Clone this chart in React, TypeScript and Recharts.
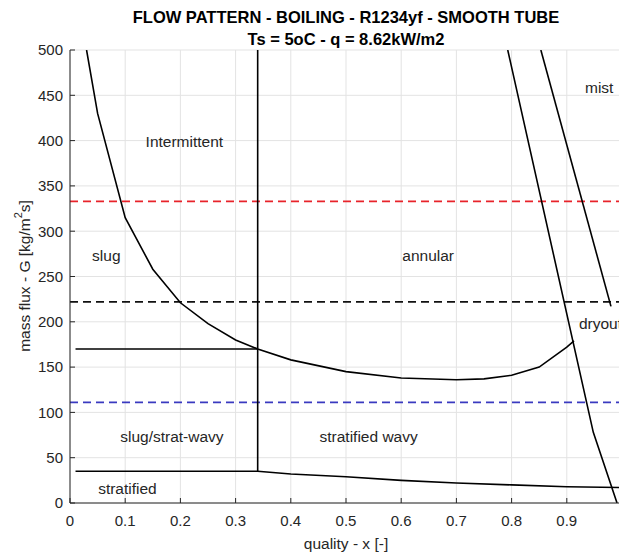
import React from "react";
import {
  ComposedChart,
  Line,
  Scatter,
  XAxis,
  YAxis,
  CartesianGrid,
  ReferenceLine,
  Label,
} from "recharts";

// boundary curves (quality x, mass flux G)
const slugAnnularX = [0.03, 0.05, 0.1, 0.15, 0.2, 0.25, 0.3, 0.34, 0.4, 0.5, 0.6, 0.7, 0.75, 0.8, 0.85, 0.9, 0.913];
const slugAnnularG = [500, 430, 315, 258, 221, 198, 180, 170, 158, 145, 138, 136, 137, 141, 150, 172, 179];

const transitionX = [0.34, 0.34];
const transitionG = [35, 500];

const intermittentX = [0.01, 0.34];
const intermittentG = [170, 170];

const stratifiedX = [0.01, 0.34, 0.4, 0.5, 0.6, 0.7, 0.8, 0.9, 1.0];
const stratifiedG = [35, 35, 32, 29, 25, 22, 20, 18, 17];

const dryoutX = [0.793, 0.948, 0.991];
const dryoutG = [500, 78, 0];

const mistX = [0.853, 0.98];
const mistG = [500, 217];

// dashed mass flux levels
const fluxHigh = 333;
const fluxMid = 222;
const fluxLow = 111;

const regionNames = ["Intermittent", "slug", "annular", "mist", "dryout", "slug/strat-wavy", "stratified wavy", "stratified"];
const regionX = [0.137, 0.04, 0.602, 0.933, 0.922, 0.091, 0.452, 0.051];
const regionG = [399, 273, 273, 459, 198, 73, 73, 15.5];

const xTicks = [0, 0.1, 0.2, 0.3, 0.4, 0.5, 0.6, 0.7, 0.8, 0.9];
const yTicks = [0, 50, 100, 150, 200, 250, 300, 350, 400, 450, 500];

const pts = (xs: number[], gs: number[]) => xs.map((x, i) => ({ x, G: gs[i] }));

const labelData = regionNames.map((text, i) => ({ x: regionX[i], G: regionG[i], text }));

const FONT = "'Liberation Sans', Arial, Helvetica, sans-serif";
const INK = "#262626";

const curves = [
  pts(slugAnnularX, slugAnnularG),
  pts(transitionX, transitionG),
  pts(intermittentX, intermittentG),
  pts(stratifiedX, stratifiedG),
  pts(dryoutX, dryoutG),
  pts(mistX, mistG),
];

function RegionText(props: any) {
  const { cx, cy, payload } = props;
  return (
    <text x={cx} y={cy} dominantBaseline="central" fontSize={15.5} fontFamily={FONT} fill={INK}>
      {payload.text}
    </text>
  );
}

// MATLAB style: tick marks point into the plot
function XTick(props: any) {
  const { x, y, payload } = props;
  const axisY = y - 12;
  return (
    <g>
      <line x1={x} x2={x} y1={axisY} y2={axisY - 5} stroke={INK} strokeWidth={1} />
      <text x={x} y={y} dy="0.71em" textAnchor="middle" fontSize={15} fontFamily={FONT} fill={INK}>
        {payload.value}
      </text>
    </g>
  );
}

function YTick(props: any) {
  const { x, y, payload } = props;
  const axisX = x + 7;
  return (
    <g>
      <line x1={axisX} x2={axisX + 5} y1={y} y2={y} stroke={INK} strokeWidth={1} />
      <text x={x} y={y} dy="0.355em" textAnchor="end" fontSize={15} fontFamily={FONT} fill={INK}>
        {payload.value}
      </text>
    </g>
  );
}

function YTitle() {
  return (
    <text
      x={24}
      y={276}
      transform="rotate(-90 24 276)"
      textAnchor="middle"
      dominantBaseline="central"
      fontSize={15.5}
      fontFamily={FONT}
      fill={INK}
    >
      mass flux - G [kg/m
      <tspan dy={-6} fontSize={11}>2</tspan>
      <tspan dy={6}>s]</tspan>
    </text>
  );
}

function XTitle() {
  return (
    <text x={346} y={543} textAnchor="middle" dominantBaseline="central" fontSize={15.5} fontFamily={FONT} fill={INK}>
      quality - x [-]
    </text>
  );
}

export default function App() {
  return (
    <div style={{ position: "absolute", left: 0, top: 0, width: 619, height: 553, overflow: "hidden", background: "#fff" }}>
      <div
        style={{
          position: "absolute",
          left: 70,
          width: 552,
          top: 6,
          textAlign: "center",
          fontFamily: FONT,
          fontWeight: "bold",
          fontSize: 16.5,
          lineHeight: "22px",
          color: "#000",
        }}
      >
        <div>FLOW PATTERN - BOILING - R1234yf - SMOOTH TUBE</div>
        <div>Ts = 5oC - q = 8.62kW/m2</div>
      </div>
      <ComposedChart width={640} height={553} margin={{ top: 50, right: 18, left: 0, bottom: 0 }}>
        <CartesianGrid stroke="#e3e3e3" strokeWidth={1} />
        <XAxis
          dataKey="x"
          type="number"
          domain={[0, 1]}
          ticks={xTicks}
          allowDataOverflow
          height={50}
          stroke={INK}
          tickLine={false}
          tickSize={6}
          tickMargin={6}
          tick={XTick}
        >
          <Label content={XTitle} />
        </XAxis>
        <YAxis
          type="number"
          domain={[0, 500]}
          ticks={yTicks}
          allowDataOverflow
          width={70}
          stroke={INK}
          tickLine={false}
          tickSize={6}
          tickMargin={1}
          tick={YTick}
        >
          <Label content={YTitle} />
        </YAxis>
        <ReferenceLine y={fluxHigh} stroke="#e8232a" strokeWidth={1.7} strokeDasharray="8 5" />
        <ReferenceLine y={fluxMid} stroke="#111" strokeWidth={1.7} strokeDasharray="8 5" />
        <ReferenceLine y={fluxLow} stroke="#3a3ac0" strokeWidth={1.7} strokeDasharray="8 5" />
        {curves.map((d, i) => (
          <Line
            key={i}
            data={d}
            dataKey="G"
            type="linear"
            stroke="#000"
            strokeWidth={1.6}
            dot={false}
            activeDot={false}
            isAnimationActive={false}
          />
        ))}
        <Scatter data={labelData} dataKey="G" shape={RegionText} isAnimationActive={false} />
      </ComposedChart>
    </div>
  );
}
